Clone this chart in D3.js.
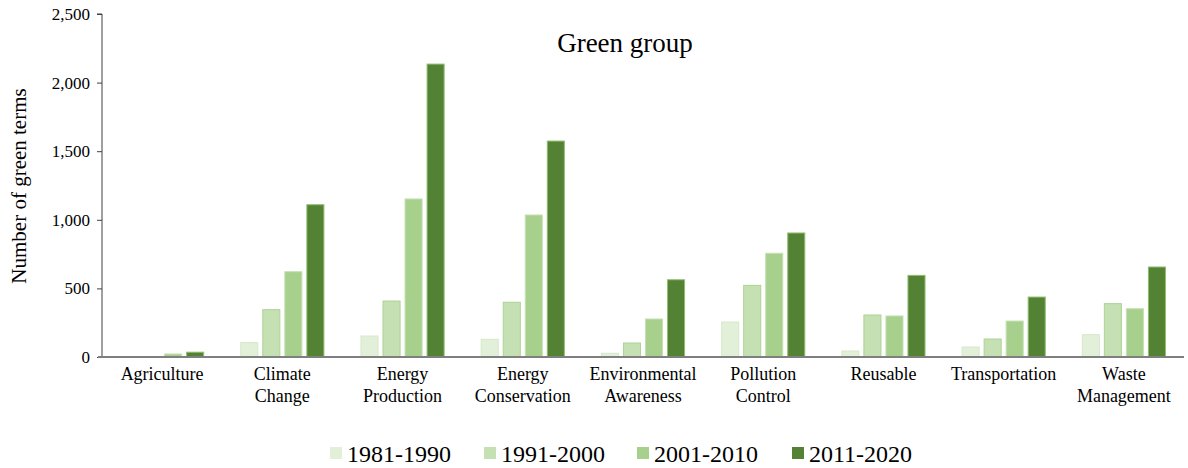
<!DOCTYPE html>
<html>
<head>
<meta charset="utf-8">
<script src="https://cdn.jsdelivr.net/npm/d3@7"></script>
<style>
  html, body { margin: 0; padding: 0; background: #ffffff; }
  svg { display: block; font-family: "Liberation Serif", "Times New Roman", serif; }
</style>
</head>
<body>
<svg id="chart" width="1188" height="468"></svg>
<script>
// Green-term counts per category and decade
const categories = [
  ["Agriculture"],
  ["Climate", "Change"],
  ["Energy", "Production"],
  ["Energy", "Conservation"],
  ["Environmental", "Awareness"],
  ["Pollution", "Control"],
  ["Reusable"],
  ["Transportation"],
  ["Waste", "Management"]
];
const series = ["1981-1990", "1991-2000", "2001-2010", "2011-2020"];
const values1981 = [0, 105, 153, 129, 27, 255, 44, 73, 163];
const values1991 = [3, 345, 408, 399, 102, 522, 306, 131, 389];
const values2001 = [22, 622, 1152, 1035, 277, 756, 299, 262, 352];
const values2011 = [35, 1110, 2135, 1574, 563, 904, 595, 437, 656];
const yTicks = [0, 500, 1000, 1500, 2000, 2500];

const fills = ["#e2efd9", "#c5e0b3", "#a8d08d", "#548235"];
const strokes = ["#d6e8cb", "#acd394", "#c5e0b3", "#8fbf6e"];

const seriesValues = [values1981, values1991, values2001, values2011];
const catKeys = categories.map(c => c.join(" "));

const svg = d3.select("#chart");
const plotLeft = 102, plotRight = 1184, plotTop = 14, plotBottom = 357;

const x = d3.scaleBand().domain(catKeys).range([plotLeft, plotRight])
  .paddingInner(0.3).paddingOuter(0.15);
const x1 = d3.scaleBand().domain(series).range([0, x.bandwidth()])
  .paddingInner(0.18).paddingOuter(0);
const y = d3.scaleLinear().domain([0, 2500]).range([plotBottom, plotTop]);

// Bars
const groups = svg.append("g").selectAll("g")
  .data(catKeys)
  .join("g")
  .attr("transform", d => `translate(${x(d)},0)`);

groups.selectAll("rect")
  .data((d, i) => series.map((s, k) => ({ s, k, v: seriesValues[k][i] })))
  .join("rect")
  .attr("x", d => x1(d.s) + 0.5)
  .attr("width", x1.bandwidth() - 1)
  .attr("y", d => y(d.v))
  .attr("height", d => Math.max(0, plotBottom - y(d.v)))
  .attr("fill", d => fills[d.k])
  .attr("stroke", d => strokes[d.k])
  .attr("stroke-width", 1);

// Y axis
const yAxis = d3.axisLeft(y).tickValues(yTicks).tickSize(5).tickPadding(7)
  .tickFormat(d3.format(","));
const yg = svg.append("g").attr("transform", `translate(${plotLeft},0)`).call(yAxis);
yg.select(".domain").attr("stroke", "#404040").attr("d", `M-5,${plotTop}H0V${plotBottom}`);
yg.selectAll(".tick line").attr("stroke", "#404040");
yg.selectAll(".tick text")
  .attr("font-family", "Liberation Serif, serif")
  .attr("font-size", 17)
  .attr("fill", "#000");

// X axis baseline
const xAxis = d3.axisBottom(x).tickSize(0).tickFormat("");
const xg = svg.append("g").attr("transform", `translate(0,${plotBottom})`).call(xAxis);
xg.select(".domain").attr("stroke", "#7f7f7f").attr("stroke-width", 2)
  .attr("d", `M${plotLeft - 4},0H${plotRight}`);

// Category labels
const labels = svg.append("g").selectAll("text")
  .data(categories)
  .join("text")
  .attr("x", (d, i) => x(catKeys[i]) + x.bandwidth() / 2)
  .attr("y", 380)
  .attr("text-anchor", "middle")
  .attr("font-size", 18)
  .attr("fill", "#000");
labels.selectAll("tspan")
  .data(d => d)
  .join("tspan")
  .attr("x", function () { return d3.select(this.parentNode).attr("x"); })
  .attr("dy", (d, i) => i === 0 ? 0 : 21.5)
  .text(d => d);

// Title
svg.append("text")
  .attr("x", 625).attr("y", 52)
  .attr("text-anchor", "middle")
  .attr("font-size", 27)
  .attr("fill", "#000")
  .text("Green group");

// Y axis label
svg.append("text")
  .attr("transform", `translate(26,186) rotate(-90)`)
  .attr("text-anchor", "middle")
  .attr("font-size", 21)
  .attr("fill", "#000")
  .text("Number of green terms");

// Legend
const legendX = [330, 484, 637, 792];
const legend = svg.append("g").selectAll("g")
  .data(series)
  .join("g")
  .attr("transform", (d, i) => `translate(${legendX[i]},0)`);
legend.append("rect")
  .attr("x", 0).attr("y", 447).attr("width", 12).attr("height", 12)
  .attr("fill", (d, i) => fills[i]);
legend.append("text")
  .attr("x", 17).attr("y", 462)
  .attr("font-size", 24)
  .attr("fill", "#000")
  .text(d => d);
</script>
</body>
</html>
